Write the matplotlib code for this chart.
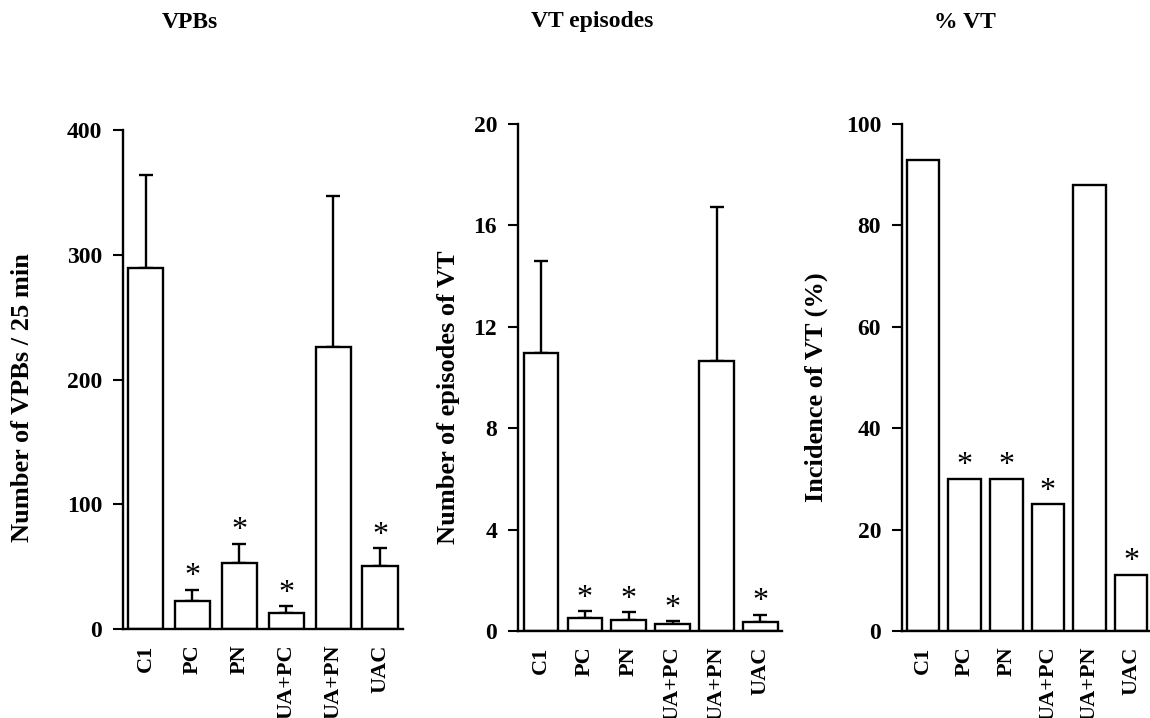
import numpy as np
import matplotlib
matplotlib.use('Agg')
import matplotlib.pyplot as plt

plt.rcParams['font.family'] = ['Liberation Serif', 'DejaVu Serif']
plt.rcParams['font.weight'] = 'bold'

# --- дані ---
groups = ['C1', 'PC', 'PN', 'UA+PC', 'UA+PN', 'UAC']

vpb_mean = [289, 22.7, 52.6, 12.6, 225.8, 50.4]
vpb_err = [75, 8.8, 15.7, 5.7, 121.6, 14.2]

vt_mean = [10.95, 0.50, 0.43, 0.26, 10.64, 0.34]
vt_err = [3.65, 0.28, 0.30, 0.13, 6.1, 0.31]

vt_pct = [92.9, 30, 30, 25, 88, 11.1]

signif = [False, True, True, True, False, True]

titles = ['VPBs', 'VT episodes', '% VT']
ylabels = ['Number of VPBs / 25 min', 'Number of episodes of VT', 'Incidence of VT (%)']

W, H = 1150, 718
fig = plt.figure(figsize=(W / 100, H / 100), dpi=100)


def px_axes(left, right, y0, ytop):
    return fig.add_axes([left / W, (H - y0) / H, (right - left) / W, (y0 - ytop) / H])


# (left, right, y of zero, y of top) in pixels
boxes = [(123, 403, 629, 130), (518, 782, 631, 124), (902, 1152, 631, 124)]
xlims = [(-0.48, 5.49), (-0.524, 5.49), (-0.505, 5.5)]
widths = [0.75, 0.79, 0.78]
yticks = [np.arange(0, 401, 100), np.arange(0, 21, 4), np.arange(0, 101, 20)]
means = [vpb_mean, vt_mean, vt_pct]
errs = [vpb_err, vt_err, None]
title_x = [190, 592, 965]
label_pos = [(23, 398), (449, 397), (816, 387)]

x = np.arange(len(groups))

for k in range(3):
    ax = px_axes(*boxes[k])
    ax.bar(x, means[k], width=widths[k], color='white', edgecolor='black',
           linewidth=1.7, zorder=2)
    tops = np.array(means[k], dtype=float)
    if errs[k] is not None:
        e = np.array(errs[k])
        ax.errorbar(x, means[k], yerr=[np.zeros_like(e), e], fmt='none',
                    ecolor='black', elinewidth=1.7, capsize=5, capthick=1.7, zorder=1)
        tops = tops + e
    for i in range(len(groups)):
        if signif[i]:
            ax.annotate('*', xy=(x[i], tops[i]), xytext=(0, 4), textcoords='offset points',
                        ha='center', va='baseline', fontsize=23, fontweight='normal')

    ax.set_xlim(*xlims[k])
    ax.set_ylim(yticks[k][0], yticks[k][-1])
    ax.set_yticks(yticks[k])
    ax.set_xticks(x)
    ax.set_xticklabels(groups, rotation=90, fontsize=16, fontweight='bold')
    ax.tick_params(axis='x', length=0, pad=11)
    ax.tick_params(axis='y', length=7, width=1.5, pad=8, labelsize=17, direction='out')
    for lab in ax.get_yticklabels():
        lab.set_fontweight('bold')
    ax.spines['top'].set_visible(False)
    ax.spines['right'].set_visible(False)
    ax.spines['left'].set_linewidth(1.7)
    ax.spines['bottom'].set_linewidth(1.7)
    ax.patch.set_visible(False)

    fig.text(title_x[k] / W, 1 - 22 / H, titles[k], ha='center', va='center',
             fontsize=17, fontweight='bold')
    fig.text(label_pos[k][0] / W, 1 - label_pos[k][1] / H, ylabels[k], rotation=90,
             ha='center', va='center', fontsize=19, fontweight='bold')

fig.savefig('out.png', dpi=100)
